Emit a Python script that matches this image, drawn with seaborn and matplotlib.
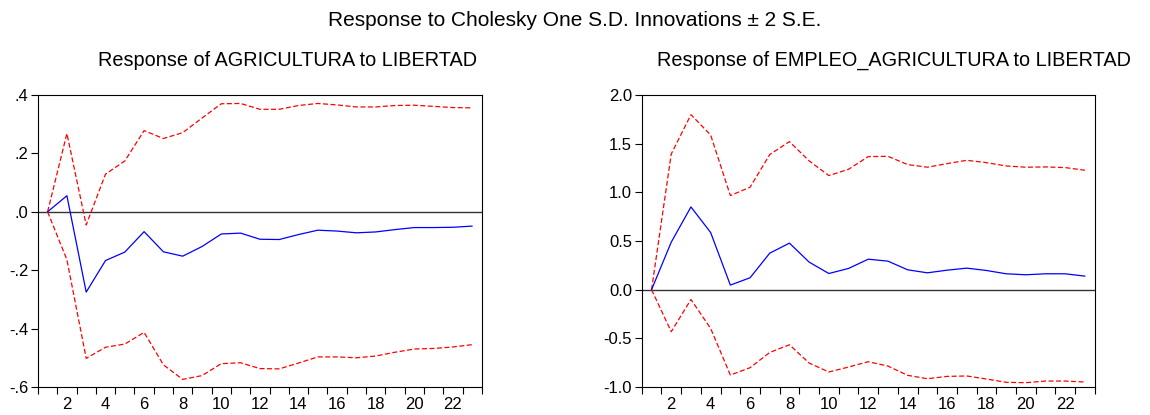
import matplotlib
matplotlib.use("Agg")
import matplotlib.pyplot as plt
import matplotlib.ticker as mticker
import seaborn as sns
import numpy as np
import pandas as pd

sns.set_style("white")
plt.rcParams['font.family'] = ['Liberation Sans', 'DejaVu Sans']
plt.rcParams['text.color'] = 'black'
plt.rcParams['xtick.color'] = 'black'
plt.rcParams['ytick.color'] = 'black'

# Periods
periods = list(range(1, 24))

# Response of AGRICULTURA to LIBERTAD
agri_resp = [0.0, 0.055, -0.275, -0.167, -0.138, -0.068, -0.137, -0.152, -0.119, -0.076, -0.073, -0.094,
             -0.095, -0.078, -0.063, -0.066, -0.072, -0.069, -0.061, -0.054, -0.054, -0.053, -0.049]
agri_upper = [0.0, 0.268, -0.045, 0.129, 0.174, 0.278, 0.251, 0.271, 0.321, 0.370, 0.371, 0.351,
              0.351, 0.364, 0.371, 0.366, 0.359, 0.359, 0.364, 0.365, 0.361, 0.357, 0.356]
agri_lower = [0.0, -0.164, -0.502, -0.464, -0.453, -0.413, -0.524, -0.574, -0.561, -0.520, -0.517, -0.537,
              -0.538, -0.518, -0.497, -0.497, -0.500, -0.494, -0.481, -0.470, -0.468, -0.463, -0.455]

# Response of EMPLEO_AGRICULTURA to LIBERTAD
emp_resp = [0.0, 0.488, 0.850, 0.587, 0.047, 0.122, 0.375, 0.478, 0.283, 0.166, 0.218, 0.313,
            0.293, 0.204, 0.173, 0.200, 0.221, 0.197, 0.163, 0.153, 0.163, 0.163, 0.139]
emp_upper = [0.0, 1.394, 1.798, 1.589, 0.967, 1.052, 1.388, 1.521, 1.323, 1.172, 1.237, 1.367,
             1.370, 1.285, 1.258, 1.295, 1.329, 1.305, 1.271, 1.258, 1.261, 1.254, 1.227]
emp_lower = [0.0, -0.432, -0.101, -0.398, -0.877, -0.802, -0.645, -0.566, -0.754, -0.846, -0.795, -0.740,
             -0.785, -0.880, -0.915, -0.891, -0.887, -0.918, -0.952, -0.956, -0.939, -0.939, -0.949]

panels = [
    {'title': 'Response of AGRICULTURA to LIBERTAD', 'resp': agri_resp, 'up': agri_upper, 'lo': agri_lower,
     'ylim': (-0.6, 0.4), 'yticks': [-0.6, -0.4, -0.2, 0.0, 0.2, 0.4], 'fmt': 'short',
     'rect': [0.033, 0.0675, 0.386, 0.7036], 'tx': 0.250},
    {'title': 'Response of EMPLEO_AGRICULTURA to LIBERTAD', 'resp': emp_resp, 'up': emp_upper, 'lo': emp_lower,
     'ylim': (-1.0, 2.0), 'yticks': [-1.0, -0.5, 0.0, 0.5, 1.0, 1.5, 2.0], 'fmt': 'long',
     'rect': [0.558, 0.0675, 0.394, 0.7036], 'tx': 0.777},
]


def short_fmt(v, pos):
    s = '%.1f' % v
    s = s.replace('0.', '.')
    if s == '-.0':
        s = '.0'
    return s


fig = plt.figure(figsize=(11.5, 4.15), dpi=100)
fig.patch.set_facecolor('white')

fig.text(0.5, 0.950, 'Response to Cholesky One S.D. Innovations \u00b1 2 S.E.',
         ha='center', va='center', fontsize=15)

for p in panels:
    ax = fig.add_axes(p['rect'])
    df = pd.DataFrame({'period': periods, 'resp': p['resp'], 'up': p['up'], 'lo': p['lo']})
    ax.axhline(0, color='#333333', lw=1.0, zorder=1)
    sns.lineplot(data=df, x='period', y='up', ax=ax, color='#ff0000', lw=0.9,
                 linestyle=(0, (4, 2)))
    sns.lineplot(data=df, x='period', y='lo', ax=ax, color='#ff0000', lw=0.9,
                 linestyle=(0, (4, 2)))
    sns.lineplot(data=df, x='period', y='resp', ax=ax, color='#0000ff', lw=0.9)

    ax.set_xlim(0.5, 23.5)
    ax.set_ylim(*p['ylim'])
    ax.set_xlabel('')
    ax.set_ylabel('')

    # ticks between periods, labels on even periods
    ax.xaxis.set_major_locator(mticker.FixedLocator(np.arange(0.5, 24, 1.0)))
    ax.xaxis.set_major_formatter(mticker.NullFormatter())
    ax.xaxis.set_minor_locator(mticker.FixedLocator(np.arange(2, 24, 2)))
    ax.xaxis.set_minor_formatter(mticker.FuncFormatter(lambda v, pos: '%d' % v))
    ax.tick_params(axis='x', which='major', direction='out', length=5, width=0.8, bottom=True)
    ax.tick_params(axis='x', which='minor', length=0, labelsize=12, pad=7)

    ax.set_yticks(p['yticks'])
    if p['fmt'] == 'short':
        ax.yaxis.set_major_formatter(mticker.FuncFormatter(short_fmt))
    else:
        ax.yaxis.set_major_formatter(mticker.FormatStrFormatter('%.1f'))
    ax.tick_params(axis='y', direction='out', length=5, width=0.8, left=True, labelsize=12, pad=2)

    for s in ax.spines.values():
        s.set_color('black')
        s.set_linewidth(0.8)

    fig.text(p['tx'], 0.855, p['title'], ha='center', va='center', fontsize=14.3)

plt.savefig('out.png', dpi=100, facecolor='white')
plt.close()
